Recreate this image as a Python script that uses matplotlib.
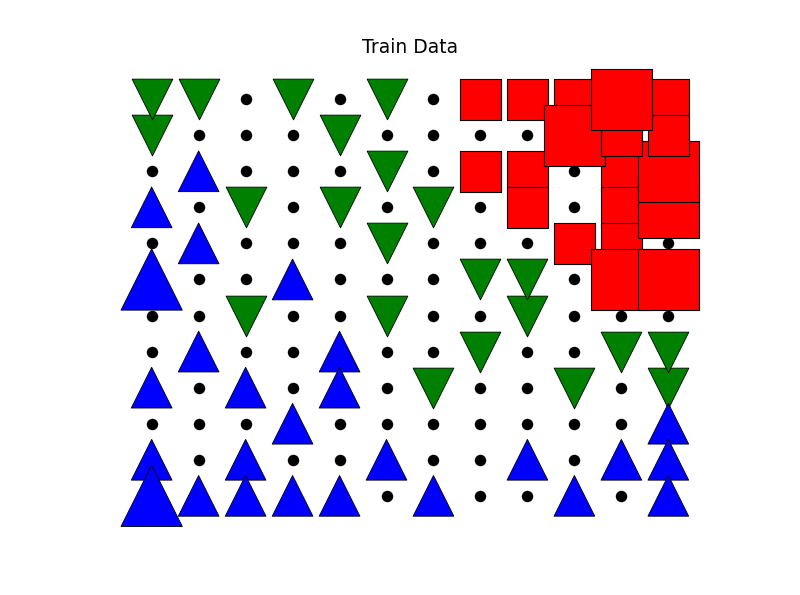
import matplotlib
matplotlib.use('Agg')
import matplotlib.pyplot as plt

# Grid positions: x = column (0..11), y = row from bottom (0..11)

# class 0: black dots
dot_x = [2, 4, 6,
         1, 2, 3, 5, 6, 7, 8,
         0, 2, 3, 4, 6, 9,
         1, 3, 5, 7, 9,
         0, 2, 3, 4, 6, 7, 8, 11,
         1, 2, 4, 5, 6, 9,
         0, 1, 3, 4, 6, 7, 9, 10, 11,
         0, 2, 3, 5, 6, 8, 9,
         1, 3, 5, 7, 8, 10,
         0, 1, 2, 4, 5, 6, 7, 8, 9, 10,
         1, 3, 4, 6, 7, 9,
         5, 7, 8, 10]
dot_y = [11] * 3 + [10] * 7 + [9] * 6 + [8] * 5 + [7] * 8 + [6] * 6 + \
        [5] * 9 + [4] * 7 + [3] * 6 + [2] * 10 + [1] * 6 + [0] * 4

# class 1: green down-triangles (drawn bottom row first)
green_x = [6, 9, 11, 7, 10, 11, 2, 5, 8, 7, 8, 5, 2, 4, 6, 5, 0, 4, 0, 1, 3, 5]
green_y = [3, 3, 3, 4, 4, 4, 5, 5, 5, 6, 6, 7, 8, 8, 8, 9, 10, 10, 11, 11, 11, 11]

# class 2: blue up-triangles (drawn top row first)
blue_x = [1, 0, 1, 0, 3, 1, 4, 0, 2, 4, 3, 11, 0, 2, 5, 8, 10, 11,
          0, 1, 2, 3, 4, 6, 9, 11]
blue_y = [9, 8, 7, 6, 6, 4, 4, 3, 3, 3, 2, 2, 1, 1, 1, 1, 1, 1,
          0, 0, 0, 0, 0, 0, 0, 0]
blue_big = [0, 0, 0, 1, 0, 0, 0, 0, 0, 0, 0, 0, 0, 0, 0, 0, 0, 0,
            1, 0, 0, 0, 0, 0, 0, 0]

# class 3: red squares
red_x = [7, 7, 8, 8, 8, 9, 9, 10, 10, 10, 11, 11, 9, 10, 11, 11, 10, 10, 11]
red_y = [11, 9, 11, 9, 8, 11, 7, 9, 8, 7, 8, 9, 10, 10, 11, 10, 11, 6, 6]
red_big = [0, 0, 0, 0, 0, 0, 0, 0, 0, 0, 1, 1, 1, 0, 0, 0, 1, 1, 1]

S_NORMAL = 860
S_BIG = 1950

fig = plt.figure(figsize=(8, 5.95), dpi=100)
ax = fig.add_axes([0.125, 0.1, 0.775, 0.8])

ax.scatter(dot_x, dot_y, s=68, c='k', marker='o', linewidths=0)
ax.scatter(green_x, green_y, s=S_NORMAL, c='g', marker='v',
           edgecolors='k', linewidths=0.6)
ax.scatter(blue_x, blue_y, s=[S_BIG if b else S_NORMAL for b in blue_big],
           c='b', marker='^', edgecolors='k', linewidths=0.6)
ax.scatter(red_x, red_y, s=[S_BIG if b else S_NORMAL for b in red_big],
           c='r', marker='s', edgecolors='k', linewidths=0.8)

ax.set_xlim(-1.1, 12.1)
ax.set_ylim(-1.1, 12.1)
ax.axis('off')
ax.set_title('Train Data', fontsize=13.5, pad=5)

fig.savefig('out.png', dpi=100)
